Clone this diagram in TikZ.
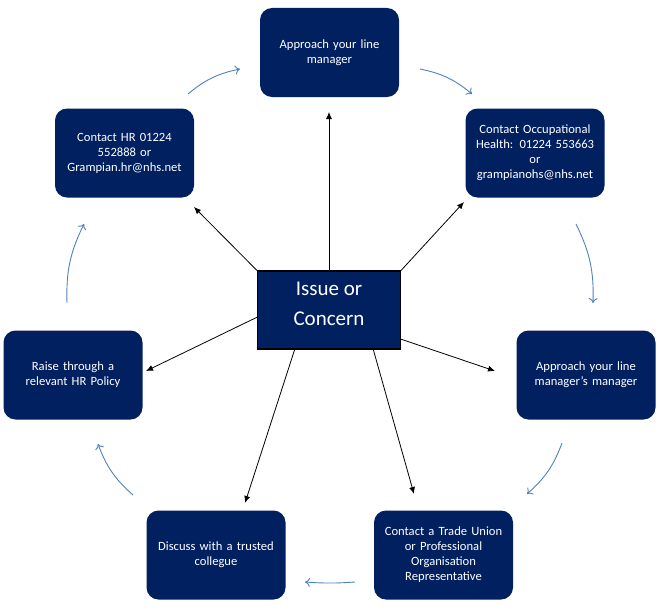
\documentclass[tikz,border=0pt]{standalone}
\usepackage{fontspec}
\setmainfont{Carlito}
\usetikzlibrary{arrows.meta}
\definecolor{navy}{RGB}{0,32,96}
\definecolor{cyc}{RGB}{79,129,189}
\tikzset{
  stepbox/.style={rectangle, rounded corners=12pt, fill=navy, text=white,
    minimum width=139pt, minimum height=89pt, text width=134pt, align=center,
    font=\fontsize{12.6}{15}\selectfont, inner sep=0pt},
  hub/.style={rectangle, fill=navy, draw=black, line width=1.2pt,
    minimum width=143pt, minimum height=78pt, inner sep=0pt},
  hubtext/.style={text=white, align=center, font=\fontsize{21}{30}\selectfont, inner sep=0pt},
  spoke/.style={draw=black, line width=0.8pt, -{Latex[length=7pt,width=6pt]}},
  cycle/.style={draw=cyc, line width=0.9pt, -{To[length=5pt,width=9pt]}, bend left=14}
}
\begin{document}
\begin{tikzpicture}[x=1pt,y=-1pt]
\useasboundingbox (0,0) rectangle (660,610);
\node[stepbox] (top) at (329.5,52.5) {Approach your line\\manager};
\node[stepbox] (tr) at (535,153) {Contact Occupational\\Health: 01224 553663\\or\\grampianohs@nhs.net};
\node[stepbox] (rt) at (586,375) {Approach your line\\manager's manager};
\node[stepbox] (br) at (443.5,555) {Contact a Trade Union\\or Professional\\Organisation\\Representative};
\node[stepbox] (bl) at (216,555) {Discuss with a trusted\\collegue};
\node[stepbox] (lf) at (73,375) {Raise through a\\relevant HR Policy};
\node[stepbox] (tl) at (124.5,153) {Contact HR 01224\\552888 or\\Grampian.hr@nhs.net};
\node[hub, label={[hubtext, yshift=6pt]center:Issue or\\Concern}] (c) at (329,310) {};
% spoke end points
\coordinate (eTop) at (329,112);
\coordinate (eTR) at (464,202);
\coordinate (eTL) at (194,207);
\coordinate (eL) at (146,371);
\coordinate (eR) at (495,371);
\coordinate (eBL) at (245,503);
\coordinate (eBR) at (414,494);
\coordinate (sL) at (257.5,317);
\coordinate (sR) at (400.5,339);
\coordinate (sBL) at (295,348.5);
\coordinate (sBR) at (373,348.5);
\draw[spoke] (c.north) -- (eTop);
\draw[spoke] (c.north east) -- (eTR);
\draw[spoke] (c.north west) -- (eTL);
\draw[spoke] (sL) -- (eL);
\draw[spoke] (sR) -- (eR);
\draw[spoke] (sBL) -- (eBL);
\draw[spoke] (sBR) -- (eBR);
% cycle arrows
\coordinate (a1) at (188,94);  \coordinate (b1) at (240,69);
\coordinate (a2) at (420,69);  \coordinate (b2) at (472,94);
\coordinate (a3) at (576,224); \coordinate (b3) at (593,303);
\coordinate (a4) at (562,443); \coordinate (b4) at (527,494);
\coordinate (a5) at (355,582); \coordinate (b5) at (305,582);
\coordinate (a6) at (133,495); \coordinate (b6) at (98,444);
\coordinate (a7) at (67,303);  \coordinate (b7) at (84,224);
\draw[cycle] (a1) to (b1);
\draw[cycle] (a2) to (b2);
\draw[cycle] (a3) to (b3);
\draw[cycle] (a4) to (b4);
\draw[cycle, bend left=4] (a5) to (b5);
\draw[cycle] (a6) to (b6);
\draw[cycle] (a7) to (b7);
\end{tikzpicture}
\end{document}
